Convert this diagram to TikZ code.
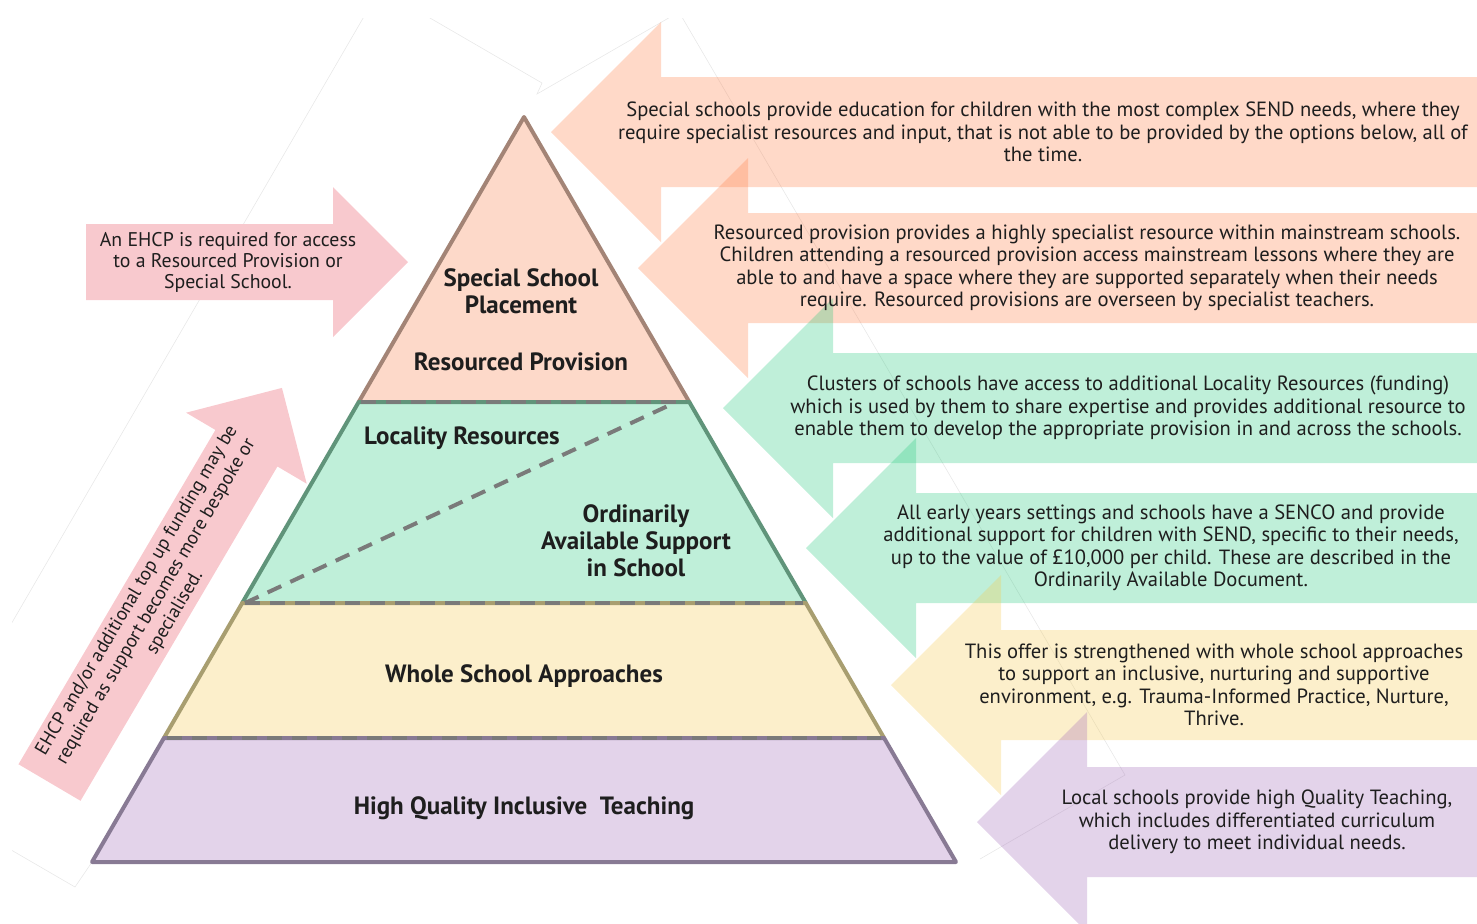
\documentclass[tikz,border=0pt]{standalone}
\usepackage{fontspec}
\setmainfont{PT Sans}
\usetikzlibrary{positioning}
\definecolor{peche}{RGB}{253,217,201}
\definecolor{menthe}{RGB}{191,239,217}
\definecolor{sable}{RGB}{252,239,203}
\definecolor{lilas}{RGB}{227,211,234}
\definecolor{rose}{RGB}{248,201,206}
\definecolor{pecheF}{RGB}{255,128,72}
\definecolor{mentheF}{RGB}{42,202,128}
\definecolor{sableF}{RGB}{245,202,82}
\definecolor{lilasF}{RGB}{162,108,185}
\definecolor{brun}{RGB}{163,132,118}
\definecolor{vert}{RGB}{96,148,122}
\definecolor{olive}{RGB}{168,158,112}
\definecolor{prune}{RGB}{136,122,148}
\definecolor{gris}{RGB}{122,122,122}
\definecolor{encre}{RGB}{30,30,30}

\begin{document}
\begin{tikzpicture}[x=0.5pt,y=-0.5pt]
	\tikzstyle{fleche}=[fill opacity=0.3]
	\tikzset{texte/.style={align=center,inner sep=0pt,text=encre,font=\fontsize{10.3}{11.25}\selectfont},titre/.style={align=center,inner sep=0pt,text=encre,font=\bfseries\fontsize{12.5}{13.5}\selectfont},niveau/.style={line width=2pt,line join=round},tirets/.style={gris,line width=2pt,dash pattern=on 7.5pt off 5pt},trace/.style={black!9,line width=0.3pt}}
	\useasboundingbox (0,0) rectangle (1477,923);
	% contours pales
	\begin{scope}
	\clip (12,18) rectangle (1477,923);
	\draw[trace] (980,859) -- (1125,775) -- (679,12) -- (537,94) -- (542,83) -- (380,-11) -- (-87,793) -- (75,887) -- (92,862);
	\end{scope}
	% fleches de droite
	\fill[fleche,pecheF] (551,132) -- (661,22) -- (661,77) -- (1477,77) -- (1477,187) -- (661,187) -- (661,242) -- cycle;
	\fill[fleche,pecheF] (638,268) -- (748,158) -- (748,213) -- (1477,213) -- (1477,323) -- (748,323) -- (748,378) -- cycle;
	\fill[fleche,mentheF] (723,408) -- (833,298) -- (833,353) -- (1477,353) -- (1477,463) -- (833,463) -- (833,518) -- cycle;
	\fill[fleche,mentheF] (806,548) -- (916,438) -- (916,493) -- (1477,493) -- (1477,603) -- (916,603) -- (916,658) -- cycle;
	\fill[fleche,sableF] (891,685) -- (1001,575) -- (1001,630) -- (1477,630) -- (1477,740) -- (1001,740) -- (1001,795) -- cycle;
	\fill[fleche,lilasF] (977,822) -- (1087,712) -- (1087,767) -- (1477,767) -- (1477,877) -- (1087,877) -- (1087,932) -- cycle;
	\node[texte] (special) at (1043,132) {Special schools provide education for children with the most complex SEND needs, where they\\require specialist resources and input, that is not able to be provided by the options below, all of\\the time.};
	\node[texte] (resource) at (1087,268) {Resourced provision provides a highly specialist resource within mainstream schools.\\Children attending a resourced provision access mainstream lessons where they are\\able to and have a space where they are supported separately when their needs\\require. Resourced provisions are overseen by specialist teachers.};
	\node[texte] (cluster) at (1128,408) {Clusters of schools have access to additional Locality Resources (funding)\\which is used by them to share expertise and provides additional resource to\\enable them to develop the appropriate provision in and across the schools.};
	\node[texte] (senco) at (1171,548) {All early years settings and schools have a SENCO and provide\\additional support for children with SEND, specific to their needs,\\up to the value of £10,000 per child. These are described in the\\Ordinarily Available Document.};
	\node[texte] (offre) at (1214,685) {This offer is strengthened with whole school approaches\\to support an inclusive, nurturing and supportive\\environment, e.g. Trauma-Informed Practice, Nurture,\\Thrive.};
	\node[texte] (local) at (1257,822) {Local schools provide high Quality Teaching,\\which includes differentiated curriculum\\delivery to meet individual needs.};
	% fleches de gauche
	\fill[rose] (86,224) -- (333,224) -- (333,187) -- (408,262) -- (333,337) -- (333,300) -- (86,300) -- cycle;
	\node[texte,font=\fontsize{9.9}{10.5}\selectfont] (ehcp) at (228,262) {An EHCP is required for access\\to a Resourced Provision or\\Special School.};
	\begin{scope}[shift={(49.5,782.5)},rotate=59.5]
	\fill[rose] (0,-36) -- (388,-36) -- (388,-70) -- (458,0) -- (388,70) -- (388,36) -- (0,36) -- cycle;
	\node[texte,transform shape,font=\fontsize{9.5}{11}\selectfont] (topup) at (210,0) {EHCP and/or additional top up funding may be\\required as support becomes more bespoke or\\specialised.};
	\end{scope}
	% pyramide
	\filldraw[niveau,fill=peche,draw=brun] (524,117) -- (689.3,402) -- (358.7,402) -- cycle;
	\filldraw[niveau,fill=menthe,draw=vert] (358.7,402) -- (689.3,402) -- (805.8,603) -- (242.2,603) -- cycle;
	\filldraw[niveau,fill=sable,draw=olive] (242.2,603) -- (805.8,603) -- (884.1,738) -- (163.9,738) -- cycle;
	\filldraw[niveau,fill=lilas,draw=prune] (163.9,738) -- (884.1,738) -- (956,862) -- (92,862) -- cycle;
	\draw[tirets] (361,402) -- (686,402);
	\draw[tirets] (245,603) -- (803,603);
	\draw[tirets] (167,738) -- (881,738);
	\draw[tirets] (245,603) -- (672,404);
	\node[titre] (placement) at (521,291) {Special School\\Placement};
	\node[titre] (provision) at (521,362) {Resourced Provision};
	\node[titre] (locality) at (462,438) {Locality Resources};
	\node[titre] (ordinaire) at (636,541) {Ordinarily\\Available Support\\in School};
	\node[titre] (approche) at (524,676) {Whole School Approaches};
	\node[titre] (teaching) at (524,808) {High Quality Inclusive\ \ Teaching};
\end{tikzpicture}
\end{document}
